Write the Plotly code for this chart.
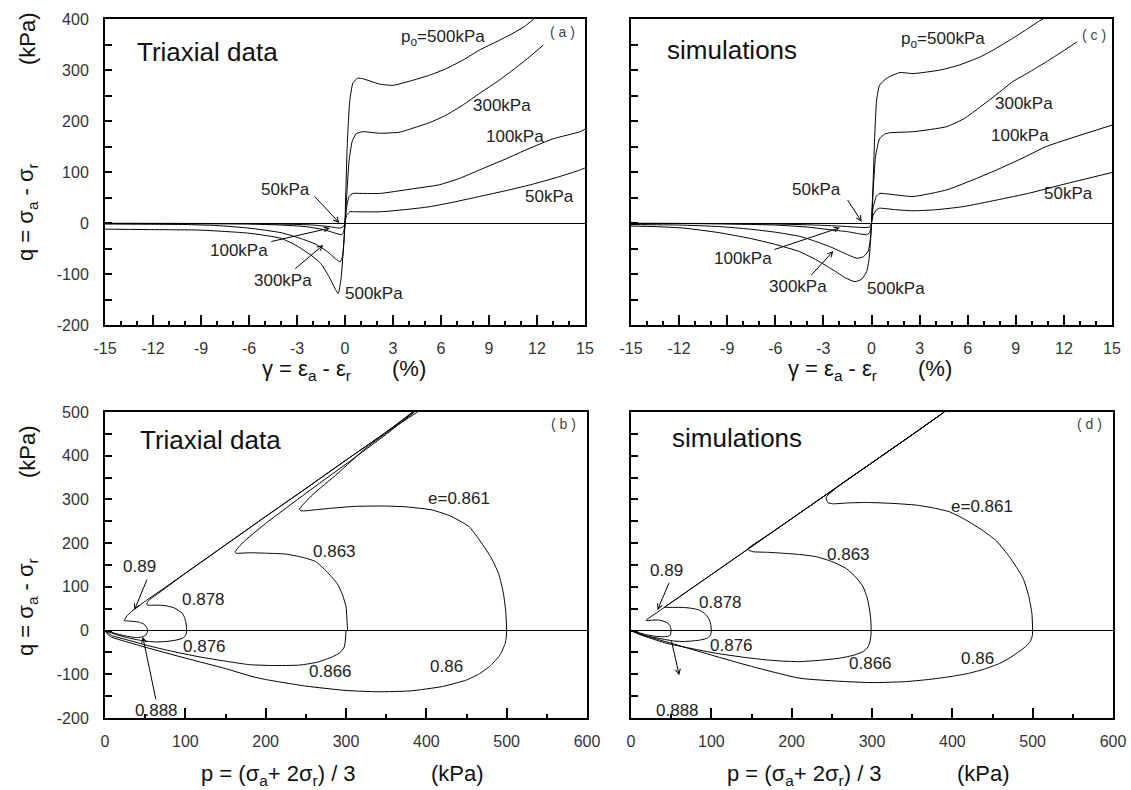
import plotly.graph_objects as go

W, H = 1131, 790
FONT = "Arial, Liberation Sans, sans-serif"

# tick values / labels (hyphen minus as in the reference)
gamma_ticks = [-15, -12, -9, -6, -3, 0, 3, 6, 9, 12, 15]
gamma_ticktext = ["-15", "-12", "-9", "-6", "-3", "0", "3", "6", "9", "12", "15"]
p_ticks = [0, 100, 200, 300, 400, 500, 600]
p_ticktext = ["0", "100", "200", "300", "400", "500", "600"]
qtop_ticks = [-200, -100, 0, 100, 200, 300, 400]
qtop_ticktext = ["-200", "-100", "0", "100", "200", "300", "400"]
qbot_ticks = [-200, -100, 0, 100, 200, 300, 400, 500]
qbot_ticktext = ["-200", "-100", "0", "100", "200", "300", "400", "500"]

# ---------------- (a) Triaxial data : gamma (%) vs q (kPa) ----------------
a500_comp_x = [0, 0.05, 0.15, 0.3, 0.5, 0.8, 1.1, 1.6, 2.2, 3.0, 4.25, 5.3, 6.35, 7.4, 8.4, 9.5, 10.5, 11.2, 11.8]
a500_comp_q = [0, 60, 160, 240, 275, 284, 283, 278, 272, 270, 280, 290, 303, 320, 339, 356, 372, 385, 400]
a300_comp_x = [0, 0.1, 0.25, 0.45, 0.7, 1.1, 2.2, 3.4, 4.25, 5.3, 6.35, 7.4, 8.4, 9.5, 10.5, 11.5, 12.4]
a300_comp_q = [0, 50, 120, 160, 175, 179, 176, 178, 186, 197, 212, 232, 254, 277, 300, 325, 349]
a100_comp_x = [0, 0.1, 0.25, 0.5, 1.0, 2.2, 4.0, 5.9, 7.2, 8.4, 10.0, 11.5, 13.0, 14.7, 15]
a100_comp_q = [0, 30, 52, 58, 58, 58, 66, 75, 88, 104, 125, 146, 165, 179, 184]
a50_comp_x = [0, 0.1, 0.3, 0.6, 2.2, 4.0, 5.3, 6.8, 8.4, 10.0, 11.6, 13.2, 14.7, 15]
a50_comp_q = [0, 15, 22, 22, 22, 27, 32, 41, 52, 63, 75, 89, 104, 108]

a500_ext_x = [0, -0.1, -0.25, -0.42, -0.6, -1.0, -1.5, -2.0, -3.0, -4.0, -6.0, -9.0, -12.0, -15]
a500_ext_q = [0, -50, -110, -138, -130, -105, -80, -66, -45, -30, -20, -14, -13, -12]
a300_ext_x = [0, -0.05, -0.15, -0.3, -0.6, -1.1, -1.8, -2.8, -4, -6, -8, -10, -12, -15]
a300_ext_q = [0, -30, -65, -76, -70, -56, -42, -30, -19, -10, -5, -3, -2.5, -2]
a100_ext_x = [0, -0.05, -0.12, -0.2, -0.5, -0.9, -1.5, -2.5, -4.0, -6.0, -9, -12, -15]
a100_ext_q = [0, -12, -20, -23, -21, -17, -12, -7, -4, -2, -1.5, -1, -1]
a50_ext_x = [0, -0.1, -0.3, -0.6, -1.0, -2.0, -4, -8, -15]
a50_ext_q = [0, -7, -10, -9, -7, -4, -2, -1, -0.5]

# ---------------- (c) simulations : gamma (%) vs q (kPa) ----------------
c500_comp_x = [0, 0.1, 0.2, 0.32, 0.5, 0.95, 1.78, 2.6, 4.3, 5.5, 6.8, 7.8, 8.8, 9.6, 10.4, 10.7]
c500_comp_q = [0, 80, 170, 241, 270, 284, 295, 293, 300, 310, 326, 343, 362, 378, 395, 400]
c300_comp_x = [0, 0.1, 0.25, 0.5, 0.8, 1.15, 2.6, 4.7, 5.8, 6.8, 7.8, 8.8, 9.9, 10.9, 11.9, 12.8]
c300_comp_q = [0, 60, 130, 165, 174, 177, 179, 189, 205, 228, 252, 277, 297, 316, 336, 355]
c100_comp_x = [0, 0.1, 0.3, 0.5, 1.0, 2.6, 4.7, 6.2, 7.8, 9.4, 10.9, 13.0, 15]
c100_comp_q = [0, 30, 52, 58, 57, 52, 65, 83, 104, 127, 150, 172, 192]
c50_comp_x = [0, 0.1, 0.3, 0.5, 1.5, 2.6, 4.0, 5.7, 7.8, 9.9, 12.0, 15]
c50_comp_q = [0, 15, 26, 29, 26, 24, 26, 32, 45, 59, 76, 99]

c500_ext_x = [0, -0.05, -0.15, -0.3, -0.6, -1.03, -1.6, -2.4, -3.4, -4.5, -6, -7.6, -9.5, -11.7, -13.5, -15]
c500_ext_q = [0, -30, -70, -95, -110, -115, -108, -92, -73, -56, -42, -30, -19, -10, -7, -6]
c300_ext_x = [0, -0.05, -0.2, -0.5, -0.92, -1.5, -2.4, -3.4, -4.5, -6, -7.6, -9.5, -12, -15]
c300_ext_q = [0, -25, -55, -66, -69, -62, -49, -37, -26, -18, -12, -7, -4, -3]
c100_ext_x = [0, -0.05, -0.15, -0.3, -0.8, -1.5, -2.4, -4, -6, -9, -12, -15]
c100_ext_q = [0, -12, -20, -23, -21, -17, -14, -8, -4, -2, -1, -1]
c50_ext_x = [0, -0.05, -0.15, -0.4, -1, -2, -3.5, -6, -10, -15]
c50_ext_q = [0, -5, -8, -9, -8, -6, -4, -2, -1, -0.5]

# ---------------- (b) Triaxial data : p (kPa) vs q (kPa) ----------------
b861_p = [500, 499, 496, 490, 480, 465, 453, 430, 407, 375, 345, 310, 283, 260, 250, 244, 242, 246, 258, 290, 325, 360, 389]
b861_q = [0, 40, 85, 130, 169, 210, 238, 262, 276, 283, 285, 284, 280, 276, 274, 274, 277, 287, 310, 360, 418, 465, 500]
b863_p = [302, 301, 300, 295, 289, 276, 262, 245, 225, 200, 180, 168, 163, 162, 165, 175, 200, 250, 300, 350, 385]
b863_q = [0, 30, 55, 85, 108, 135, 158, 168, 175, 177, 178, 177, 177, 180, 188, 207, 245, 314, 381, 449, 500]
b878_p = [101.6, 101, 99, 96, 86, 75, 68, 58, 53, 52, 55, 70, 100, 150, 200, 250, 300, 350, 383]
b878_q = [0, 15, 30, 40, 52, 57, 58, 58, 58, 62, 70, 90, 131, 196, 261, 325, 390, 454, 500]
b890_p = [53, 52.5, 51, 48, 43, 35, 28, 24, 25, 28, 35, 50, 100, 150, 200, 250, 300, 350, 384]
b890_q = [0, 5, 10, 15, 19, 21, 22, 23, 27, 35, 47, 67, 131, 196, 261, 325, 390, 454, 500]
b860_p = [500, 499.5, 498, 492, 480, 465, 450, 420, 380, 340, 300, 250, 200, 183, 150, 100, 50, 20, 8, 3, 0]
b860_q = [0, -15, -30, -55, -80, -100, -113, -128, -138, -140, -137, -127, -112, -105, -87, -63, -38, -22, -15, -8, 0]
b866_p = [300, 299.5, 298, 293, 283, 265, 242, 210, 180, 150, 117, 80, 55, 25, 8, 0]
b866_q = [0, -15, -37, -50, -60, -72, -79, -80, -78, -70, -60, -46, -35, -20, -11, 0]
b876_p = [101.6, 101, 99, 96, 88, 76, 65, 55, 40, 25, 12, 0]
b876_q = [0, -8, -14, -18, -22, -25, -26, -25, -21, -15, -8, 0]
b888_p = [53, 52.5, 51, 48, 45, 38, 28, 18, 8, 0]
b888_q = [0, -5, -10, -13, -15, -16, -13, -9, -4, 0]

# ---------------- (d) simulations : p (kPa) vs q (kPa) ----------------
d861_p = [500, 499, 495, 488, 478, 471, 455, 437, 415, 396, 375, 355, 325, 293, 270, 251, 245, 243, 260, 300, 350, 390]
d861_q = [0, 40, 80, 120, 150, 169, 205, 230, 255, 272, 281, 287, 291, 293, 292, 290, 293, 305, 333, 384, 448, 500]
d863_p = [299, 298.5, 297, 294, 289, 280, 268, 250, 230.5, 210, 189, 170, 151.6, 145, 170, 200, 250, 300, 350, 390]
d863_q = [0, 25, 47, 75, 100, 122, 142, 158, 169, 174, 177, 179, 180.5, 186, 218, 256, 320, 384, 448, 500]
d878_p = [100, 99.5, 97.7, 93, 85, 75, 64.5, 54, 44, 41.5, 50, 100, 150, 200, 250, 300, 350, 390]
d878_q = [0, 12, 24, 37, 47, 51, 53, 53, 53, 53, 64, 128, 192, 256, 320, 384, 448, 500]
d890_p = [50, 49.5, 48, 44, 35.5, 27, 19, 19.5, 25, 37.6, 50, 100, 150, 200, 250, 300, 350, 390]
d890_q = [0, 6, 13, 19, 24, 24, 23, 25, 32, 48, 64, 128, 192, 256, 320, 384, 448, 500]
d860_p = [500, 499.5, 497, 491, 483, 472, 459, 440, 420, 395, 370, 340, 300, 260, 210, 150, 100, 50, 20, 8, 0]
d860_q = [0, -12, -25, -37, -48, -62, -75, -88, -98, -106, -112, -117, -119, -116, -109, -82, -56, -29, -13, -6, 0]
d866_p = [299, 298.5, 297, 294, 289, 278, 260, 235, 210, 190, 168, 140, 106, 75, 44, 20, 8, 0]
d866_q = [0, -14, -29, -40, -48, -56, -63, -68, -71, -70, -67, -61, -52, -41, -29, -15, -7, 0]
d876_p = [100, 99.5, 98, 94, 85, 75, 64.5, 54, 44, 33, 23, 12, 0]
d876_q = [0, -7, -13, -18, -22, -24, -25, -24, -21, -17, -14, -8, 0]
d888_p = [50, 49.5, 49, 46, 40, 30, 20, 10, 0]
d888_q = [0, -5, -10, -13, -14, -13, -10, -5, 0]

fig = go.Figure()


def curve(x, y, xa, ya):
    fig.add_trace(go.Scatter(x=x, y=y, mode="lines", xaxis=xa, yaxis=ya,
                             line=dict(color="black", width=1, shape="spline", smoothing=0.5),
                             showlegend=False, hoverinfo="skip"))


for xs, ys in [(a500_comp_x, a500_comp_q), (a300_comp_x, a300_comp_q), (a100_comp_x, a100_comp_q),
               (a50_comp_x, a50_comp_q), (a500_ext_x, a500_ext_q), (a300_ext_x, a300_ext_q),
               (a100_ext_x, a100_ext_q), (a50_ext_x, a50_ext_q)]:
    curve(xs, ys, "x", "y")
for xs, ys in [(c500_comp_x, c500_comp_q), (c300_comp_x, c300_comp_q), (c100_comp_x, c100_comp_q),
               (c50_comp_x, c50_comp_q), (c500_ext_x, c500_ext_q), (c300_ext_x, c300_ext_q),
               (c100_ext_x, c100_ext_q), (c50_ext_x, c50_ext_q)]:
    curve(xs, ys, "x2", "y2")
for xs, ys in [(b861_p, b861_q), (b863_p, b863_q), (b878_p, b878_q), (b890_p, b890_q),
               (b860_p, b860_q), (b866_p, b866_q), (b876_p, b876_q), (b888_p, b888_q)]:
    curve(xs, ys, "x3", "y3")
for xs, ys in [(d861_p, d861_q), (d863_p, d863_q), (d878_p, d878_q), (d890_p, d890_q),
               (d860_p, d860_q), (d866_p, d866_q), (d876_p, d876_q), (d888_p, d888_q)]:
    curve(xs, ys, "x4", "y4")


def px_x(p):
    return p / W


def px_y(p):
    return 1 - p / H


def xaxis(dom, rng, tvals, ttext, minor, anchor, tick0):
    return dict(domain=dom, range=rng, anchor=anchor, tickmode="array", tickvals=tvals, ticktext=ttext,
                ticks="inside", ticklen=10, tickwidth=1.5, tickcolor="black",
                minor=dict(dtick=minor, tick0=tick0, ticks="inside", ticklen=4, tickwidth=1.5, tickcolor="black"),
                showline=True, linewidth=2, linecolor="black", mirror=True,
                showgrid=False, zeroline=False, automargin=False,
                ticklabelstandoff=8,
                tickfont=dict(family=FONT, size=16, color="#333"))


def yaxis(dom, rng, tvals, ttext, anchor, labels):
    return dict(domain=dom, range=rng, anchor=anchor, tickmode="array", tickvals=tvals, ticktext=ttext,
                ticks="inside", ticklen=7, tickwidth=1.5, tickcolor="black",
                minor=dict(dtick=50, tick0=0, ticks="inside", ticklen=7, tickwidth=1.5, tickcolor="black"),
                showline=True, linewidth=2, linecolor="black", mirror=True,
                showgrid=False, zeroline=True, zerolinecolor="black", zerolinewidth=1,
                automargin=False, showticklabels=labels, ticklabelstandoff=11,
                tickfont=dict(family=FONT, size=16, color="#333"))


TLx = [px_x(105), px_x(585)]
TRx = [px_x(631), px_x(1112)]
BLx = [px_x(105), px_x(587)]
BRx = [px_x(631), px_x(1113)]
TY = [px_y(325), px_y(19)]
BY = [px_y(718), px_y(412)]

fig.update_layout(
    width=W, height=H, autosize=False, template="none",
    margin=dict(l=0, r=0, t=0, b=0),
    paper_bgcolor="white", plot_bgcolor="white",
    xaxis=xaxis(TLx, [-15, 15], gamma_ticks, gamma_ticktext, 1, "y", -15),
    yaxis=yaxis(TY, [-200, 400], qtop_ticks, qtop_ticktext, "x", True),
    xaxis2=xaxis(TRx, [-15, 15], gamma_ticks, gamma_ticktext, 1, "y2", -15),
    yaxis2=yaxis(TY, [-200, 400], qtop_ticks, qtop_ticktext, "x2", False),
    xaxis3=xaxis(BLx, [0, 600], p_ticks, p_ticktext, 50, "y3", 0),
    yaxis3=yaxis(BY, [-200, 500], qbot_ticks, qbot_ticktext, "x3", True),
    xaxis4=xaxis(BRx, [0, 600], p_ticks, p_ticktext, 50, "y4", 0),
    yaxis4=yaxis(BY, [-200, 500], qbot_ticks, qbot_ticktext, "x4", False),
)

anns = []


def label(xa, ya, x, y, text, size=17, color="#222"):
    anns.append(dict(xref=xa, yref=ya, x=x, y=y, text=text, showarrow=False,
                     font=dict(family=FONT, size=size, color=color), xanchor="center", yanchor="middle"))


def arrow(xa, ya, hx, hy, tx, ty):
    anns.append(dict(xref=xa, yref=ya, axref=xa, ayref=ya, x=hx, y=hy, ax=tx, ay=ty, text="",
                     showarrow=True, arrowhead=5, arrowsize=1, arrowwidth=1, arrowcolor="black",
                     standoff=0, startstandoff=0))


# panel (a)
label("x", "y", 6.1, 362, "p<sub>o</sub>=500kPa")
label("x", "y", 9.8, 231, "300kPa")
label("x", "y", 10.6, 169, "100kPa")
label("x", "y", 12.75, 52, "50kPa")
label("x", "y", -3.7, 65, "50kPa")
label("x", "y", -6.6, -53, "100kPa")
label("x", "y", -3.9, -112, "300kPa")
label("x", "y", 1.8, -139, "500kPa")
label("x", "y", -8.6, 336, "Triaxial data", 26, "#111")
label("x", "y", 13.6, 375, "( a )", 14, "#444")
arrow("x", "y", -0.35, 0, -1.98, 55)
arrow("x", "y", -0.94, -10, -4.7, -37)
arrow("x", "y", -1.36, -43, -3.2, -92)

# panel (c)
label("x2", "y2", 4.47, 359, "p<sub>o</sub>=500kPa")
label("x2", "y2", 9.5, 235, "300kPa")
label("x2", "y2", 9.26, 172.5, "100kPa")
label("x2", "y2", 12.3, 58, "50kPa")
label("x2", "y2", -3.46, 65, "50kPa")
label("x2", "y2", -8.0, -69, "100kPa")
label("x2", "y2", -4.6, -125, "300kPa")
label("x2", "y2", 1.5, -128, "500kPa")
label("x2", "y2", -8.7, 339, "simulations", 26, "#111")
label("x2", "y2", 13.9, 369, "( c )", 14, "#444")
arrow("x2", "y2", -0.61, 2.5, -1.55, 48)
arrow("x2", "y2", -1.97, -9, -6.14, -53)
arrow("x2", "y2", -2.38, -55, -3.84, -105)

# panel (b)
label("x3", "y3", 441, 303, "e=0.861")
label("x3", "y3", 286, 180, "0.863")
label("x3", "y3", 122.6, 70, "0.878")
label("x3", "y3", 124, -37, "0.876")
label("x3", "y3", 281, -94, "0.866")
label("x3", "y3", 425, -83, "0.86")
label("x3", "y3", 43, 146, "0.89")
label("x3", "y3", 64, -182, "0.888")
label("x3", "y3", 131, 436, "Triaxial data", 26, "#111")
label("x3", "y3", 571, 473, "( b )", 14, "#444")
arrow("x3", "y3", 36.6, 47, 53, 120)
arrow("x3", "y3", 47, -14, 63.6, -160)

# panel (d)
label("x4", "y4", 437.5, 283.5, "e=0.861")
label("x4", "y4", 271, 173, "0.863")
label("x4", "y4", 112, 64, "0.878")
label("x4", "y4", 125.7, -33, "0.876")
label("x4", "y4", 298, -75, "0.866")
label("x4", "y4", 431, -63, "0.86")
label("x4", "y4", 44, 137, "0.89")
label("x4", "y4", 58, -182, "0.888")
label("x4", "y4", 132, 440, "simulations", 26, "#111")
label("x4", "y4", 571, 473, "( d )", 14, "#444")
arrow("x4", "y4", 33, 47, 48, 112)
arrow("x4", "y4", 60, -102, 50, -21)


def ptext(xp, yp, text, size=22, angle=0):
    anns.append(dict(xref="paper", yref="paper", x=xp / W, y=1 - yp / H, text=text, showarrow=False,
                     textangle=angle, font=dict(family=FONT, size=size, color="#111"),
                     xanchor="center", yanchor="middle"))


for off in (0, 526):
    ptext(306 + off, 370, "γ = ε<sub>a</sub> - ε<sub>r</sub>")
    ptext(409 + off, 368, "(%)")
    ptext(278 + off, 775, "p = (σ<sub>a</sub>+ 2σ<sub>r</sub>) / 3")
    ptext(457 + off, 773, "(kPa)")

ptext(27, 212, "q = σ<sub>a</sub> - σ<sub>r</sub>", angle=-90)
ptext(27, 38, "(kPa)", angle=-90)
ptext(27, 607, "q = σ<sub>a</sub> - σ<sub>r</sub>", angle=-90)
ptext(27, 451, "(kPa)", angle=-90)

fig.update_layout(annotations=anns)
fig.write_html("out.html")
